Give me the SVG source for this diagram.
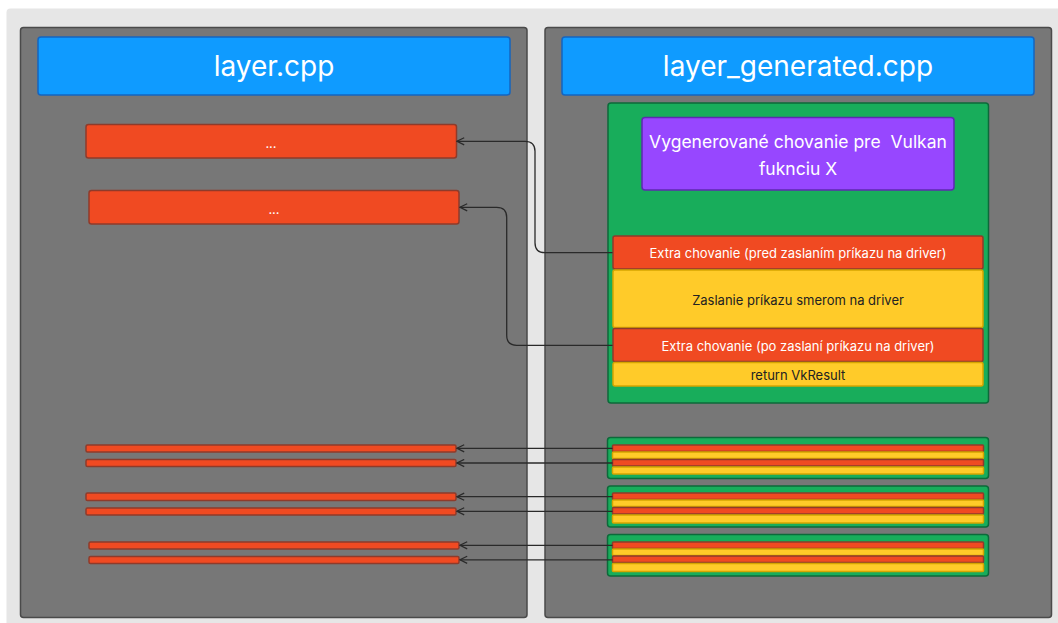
<svg xmlns="http://www.w3.org/2000/svg" width="1058" height="623" viewBox="0 0 1058 623">
<defs>
<style>
.panel{fill:#777777;stroke:#4a4a4a;stroke-width:1.5}
.hdr{fill:#0f9bff;stroke:#1565c0;stroke-width:1.5}
.red{fill:#f04a22;stroke:#8e3b2b;stroke-width:1.5}
.yel{fill:#ffcb29;stroke:#d6a500;stroke-width:1.5}
.grn{fill:#18ad5b;stroke:#0c6a3a;stroke-width:1.5}
.pur{fill:#9747ff;stroke:#5d2ab0;stroke-width:1.5}
text{font-family:Inter,"Liberation Sans",Arial,sans-serif;text-anchor:middle;dominant-baseline:central;white-space:pre}
.htxt{font-size:28px;fill:#ffffff}
.wt{font-size:13px;fill:#ffffff}
.dt{font-size:13px;fill:#222222}
.pt{font-size:17.5px;fill:#ffffff}
.con{fill:none;stroke:#2a2a2a;stroke-width:1.3;marker-end:url(#arr)}
</style>
<marker id="arr" viewBox="0 0 10 10" refX="9" refY="5" markerWidth="9" markerHeight="9" markerUnits="userSpaceOnUse" orient="auto">
<path d="M1,1 L9,5 L1,9" fill="none" stroke="#2a2a2a" stroke-width="1.4"/>
</marker>
</defs>
<rect x="0" y="0" width="1058" height="623" fill="#ffffff"/>
<rect x="6.5" y="8.5" width="1060" height="620" rx="4" fill="#e6e6e6"/>

<g id="panel-left">
<rect class="panel" x="20.5" y="27.5" width="506.5" height="590" rx="3"/>
<rect class="hdr" x="38" y="37" width="472" height="58" rx="3"/>
<text class="htxt" x="274" y="66">layer.cpp</text>
</g>
<g id="panel-right">
<rect class="panel" x="545" y="27.5" width="506.5" height="590" rx="3"/>
<rect class="hdr" x="562" y="37" width="472" height="58" rx="3"/>
<text class="htxt" x="798" y="66">layer_generated.cpp</text>
</g>

<g id="left-box-1">
<rect class="red" x="86" y="124.5" width="370.5" height="33.5" rx="2.5"/>
<text class="wt" x="271" y="143" font-size="11">...</text>
</g>
<g id="left-box-2">
<rect class="red" x="89" y="190.5" width="370" height="33.5" rx="2.5"/>
<text class="wt" x="274" y="209" font-size="11">...</text>
</g>

<g id="func-x">
<rect class="grn" x="608" y="103" width="380.5" height="300" rx="3"/>
<rect class="pur" x="642" y="117.5" width="312" height="72.5" rx="3"/>
<text class="pt" x="798" y="141" xml:space="preserve">Vygenerované chovanie pre  Vulkan</text>
<text class="pt" x="798" y="168">fuknciu X</text>
<g id="extra-pre">
<rect class="red" x="613" y="236" width="370" height="33" rx="2"/>
<text class="wt" x="798" y="253">Extra chovanie (pred zaslaním príkazu na driver)</text>
</g>
<g id="send">
<rect class="yel" x="613" y="270" width="370" height="57.5" rx="2"/>
<text class="dt" x="798" y="299.5">Zaslanie príkazu smerom na driver</text>
</g>
<g id="extra-post">
<rect class="red" x="613" y="328.5" width="370" height="33" rx="2"/>
<text class="wt" x="798" y="345.5">Extra chovanie (po zaslaní príkazu na driver)</text>
</g>
<g id="ret">
<rect class="yel" x="613" y="362.5" width="370" height="23.5" rx="2"/>
<text class="dt" x="798" y="374.5">return VkResult</text>
</g>
</g>

<g id="func-a">
<rect class="grn" x="607.5" y="437.5" width="381" height="41" rx="3"/>
<rect class="red" x="612.5" y="445" width="371" height="6.5" rx="1"/>
<rect class="yel" x="612.5" y="452" width="371" height="6.5" rx="1"/>
<rect class="red" x="612.5" y="459.5" width="371" height="6.5" rx="1"/>
<rect class="yel" x="612.5" y="467" width="371" height="7" rx="1"/>
</g>
<g id="func-b">
<rect class="grn" x="607.5" y="486" width="381" height="41" rx="3"/>
<rect class="red" x="612.5" y="493" width="371" height="6.5" rx="1"/>
<rect class="yel" x="612.5" y="500" width="371" height="6.5" rx="1"/>
<rect class="red" x="612.5" y="507.5" width="371" height="6.5" rx="1"/>
<rect class="yel" x="612.5" y="515" width="371" height="8" rx="1"/>
</g>
<g id="func-c">
<rect class="grn" x="607.5" y="534.5" width="381" height="41.5" rx="3"/>
<rect class="red" x="612.5" y="542" width="371" height="6.5" rx="1"/>
<rect class="yel" x="612.5" y="549" width="371" height="6.5" rx="1"/>
<rect class="red" x="612.5" y="556" width="371" height="6.5" rx="1"/>
<rect class="yel" x="612.5" y="563.5" width="371" height="8" rx="1"/>
</g>

<g id="left-bars">
<rect class="red" x="86" y="445" width="370" height="7" rx="1.5"/>
<rect class="red" x="86" y="459.5" width="370" height="7" rx="1.5"/>
<rect class="red" x="86" y="493" width="370" height="7.5" rx="1.5"/>
<rect class="red" x="86" y="508" width="370" height="7" rx="1.5"/>
<rect class="red" x="89" y="542" width="370" height="7" rx="1.5"/>
<rect class="red" x="89" y="556.5" width="370" height="7" rx="1.5"/>
</g>

<g id="connectors">
<path class="con" d="M612.5,252.7 H545 Q535,252.7 535,242.7 V151.3 Q535,141.3 525,141.3 H457"/>
<path class="con" d="M612.5,345.3 H516.7 Q506.7,345.3 506.7,335.3 V217.3 Q506.7,207.3 496.7,207.3 H460"/>
<path class="con" d="M612.5,448.3 H457"/>
<path class="con" d="M612.5,463 H457"/>
<path class="con" d="M612.5,496.7 H457"/>
<path class="con" d="M612.5,511.3 H457"/>
<path class="con" d="M612.5,545.3 H460"/>
<path class="con" d="M612.5,559.8 H460"/>
</g>
</svg>
